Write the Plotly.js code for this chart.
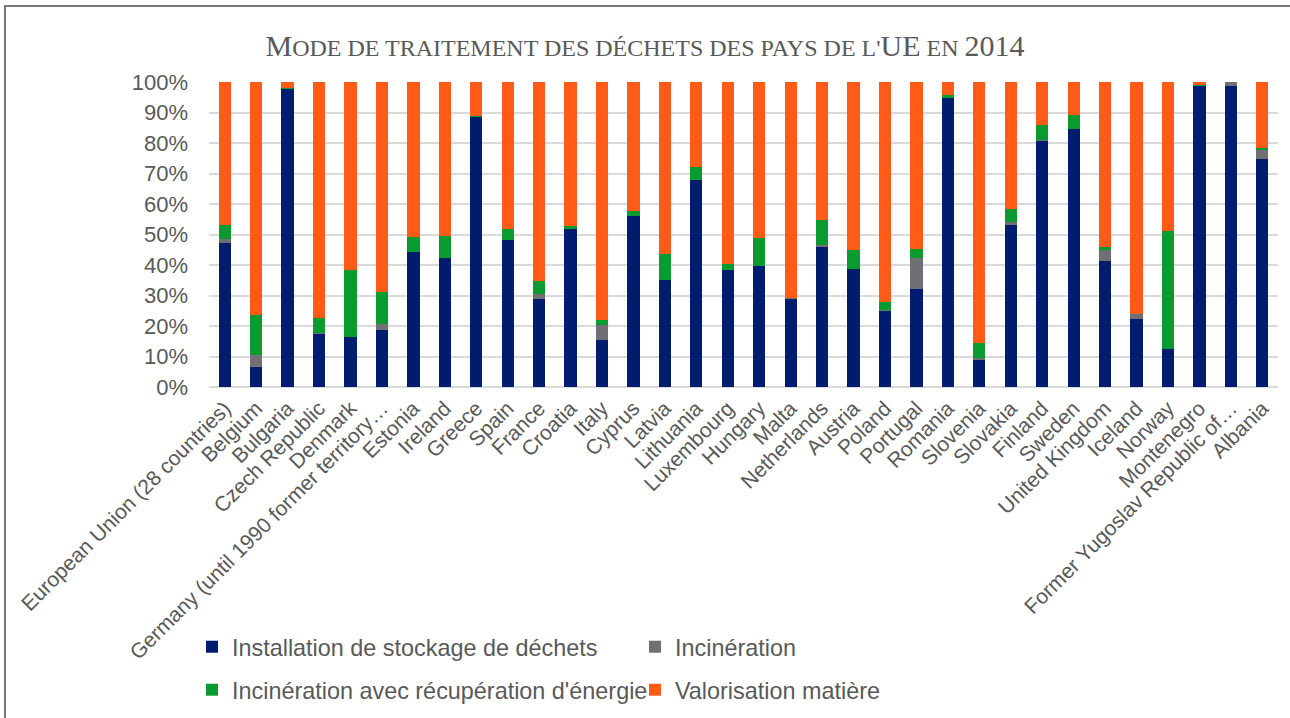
<!DOCTYPE html>
<html>
<head>
<meta charset="utf-8">
<script src="https://cdn.plot.ly/plotly-3.0.1.min.js"></script>
<style>
  html, body { margin: 0; padding: 0; background: #ffffff; }
  #chart { width: 1290px; height: 718px; }
</style>
</head>
<body>
<div id="chart"></div>
<script>
// ---- Data (percent of treated waste, 2014) ----
const countries = [
  'European Union (28 countries)', 'Belgium', 'Bulgaria', 'Czech Republic', 'Denmark',
  'Germany (until 1990 former territory…', 'Estonia', 'Ireland', 'Greece', 'Spain',
  'France', 'Croatia', 'Italy', 'Cyprus', 'Latvia', 'Lithuania', 'Luxembourg',
  'Hungary', 'Malta', 'Netherlands', 'Austria', 'Poland', 'Portugal', 'Romania',
  'Slovenia', 'Slovakia', 'Finland', 'Sweden', 'United Kingdom', 'Iceland', 'Norway',
  'Montenegro', 'Former Yugoslav Republic of…', 'Albania'
];

const stockage = [
  47.2, 6.6, 97.7, 17.5, 16.4, 18.8, 44.3, 42.4, 88.5, 48.3,
  28.9, 51.7, 15.3, 56.1, 35.2, 68.0, 38.4,
  39.7, 28.9, 45.9, 38.6, 25.0, 32.1, 94.6,
  9.0, 53.2, 80.7, 84.6, 41.3, 22.2, 12.6,
  98.8, 98.7, 74.8
];

const incineration = [
  1.4, 4.0, 0.0, 0.1, 0.1, 2.0, 0.0, 0.0, 0.0, 0.0,
  1.7, 0.0, 4.9, 0.0, 0.0, 0.0, 0.0,
  0.0, 0.2, 0.8, 0.0, 0.2, 10.1, 0.0,
  0.4, 0.8, 0.4, 0.0, 3.7, 1.6, 0.0,
  0.0, 1.3, 3.0
];

const incinerationEnergie = [
  4.5, 13.0, 0.2, 5.1, 21.9, 10.5, 4.8, 7.1, 0.4, 3.4,
  4.2, 1.2, 1.9, 1.7, 8.4, 4.0, 2.0,
  9.3, 0.0, 8.1, 6.4, 2.8, 3.0, 1.2,
  5.0, 4.4, 4.9, 4.7, 0.9, 0.2, 38.7,
  0.1, 0.0, 0.7
];

const valorisation = [
  46.9, 76.4, 2.1, 77.3, 61.6, 68.7, 50.9, 50.5, 11.1, 48.3,
  65.2, 47.1, 77.9, 42.2, 56.4, 28.0, 59.6,
  51.0, 70.9, 45.2, 55.0, 72.0, 54.8, 4.2,
  85.6, 41.6, 14.0, 10.7, 54.1, 76.0, 48.7,
  1.1, 0.0, 21.5
];

const seriesNames = [
  'Installation de stockage de déchets',
  'Incinération',
  'Incinération avec récupération d\'énergie',
  'Valorisation matière'
];
const yTickVals = [0, 10, 20, 30, 40, 50, 60, 70, 80, 90, 100];
const yTickText = ['0%', '10%', '20%', '30%', '40%', '50%', '60%', '70%', '80%', '90%', '100%'];

// ---- Styles ----
const colors = ['#001C6E', '#707074', '#0A9B30', '#FF5A16'];
const textGrey = '#595959';
const sans = 'Liberation Sans, Arial, sans-serif';
const serif = 'Liberation Serif, Times New Roman, serif';

const seriesValues = [stockage, incineration, incinerationEnergie, valorisation];
const legendIds = ['legend', 'legend', 'legend2', 'legend2'];

const traces = seriesValues.map((vals, i) => ({
  type: 'bar',
  x: countries,
  y: vals,
  name: seriesNames[i],
  legend: legendIds[i],
  marker: { color: colors[i], line: { width: 0 } },
  hoverinfo: 'x+y+name'
}));

const W = 1290, H = 718;
const M = { l: 209, r: 12, t: 82, b: 331, autoexpand: false };
const pw = W - M.l - M.r, ph = H - M.t - M.b;
const px2x = p => (p - M.l) / pw;
const py2y = p => (H - M.b - p) / ph;

const small = s => '<span style="font-size:24px">' + s + '</span>';
const titleText = 'M' + small('ODE DE TRAITEMENT DES DÉCHETS DES PAYS DE L\'') + 'UE' + small(' EN ') + '2014';

const legendCommon = {
  orientation: 'h',
  xanchor: 'left',
  yanchor: 'middle',
  x: px2x(192),
  font: { family: sans, size: 23.4, color: textGrey },
  entrywidth: 398,
  entrywidthmode: 'pixels',
  traceorder: 'normal',
  bgcolor: 'rgba(0,0,0,0)'
};

const layout = {
  width: W,
  height: H,
  margin: M,
  paper_bgcolor: '#ffffff',
  plot_bgcolor: '#ffffff',
  barmode: 'stack',
  bargap: 0.61,
  showlegend: true,
  title: {
    text: titleText,
    font: { family: serif, size: 30, color: textGrey },
    x: 0.5,
    xref: 'container',
    xanchor: 'center',
    y: 1 - 45 / H,
    yref: 'container',
    yanchor: 'middle'
  },
  xaxis: {
    type: 'category',
    tickangle: -45,
    tickfont: { family: sans, size: 21, color: textGrey },
    showgrid: false,
    showline: false,
    ticks: '',
    ticklabelstandoff: 4,
    automargin: false
  },
  yaxis: {
    range: [0, 100],
    tickvals: yTickVals,
    ticktext: yTickText,
    tickfont: { family: sans, size: 22, color: textGrey },
    showgrid: true,
    gridcolor: '#DADADA',
    gridwidth: 2,
    zeroline: true,
    zerolinecolor: '#DADADA',
    zerolinewidth: 2,
    showline: false,
    ticks: '',
    ticklabelstandoff: 20,
    automargin: false
  },
  legend: Object.assign({}, legendCommon, { y: py2y(647) }),
  legend2: Object.assign({}, legendCommon, { y: py2y(690) }),
  shapes: [{
    type: 'rect',
    xref: 'paper', yref: 'paper',
    x0: px2x(5), x1: px2x(1300),
    y0: py2y(730), y1: py2y(6),
    line: { color: '#787878', width: 2 },
    fillcolor: 'rgba(0,0,0,0)',
    layer: 'above'
  }]
};

Plotly.newPlot('chart', traces, layout, { displayModeBar: false, staticPlot: true });
</script>
</body>
</html>
